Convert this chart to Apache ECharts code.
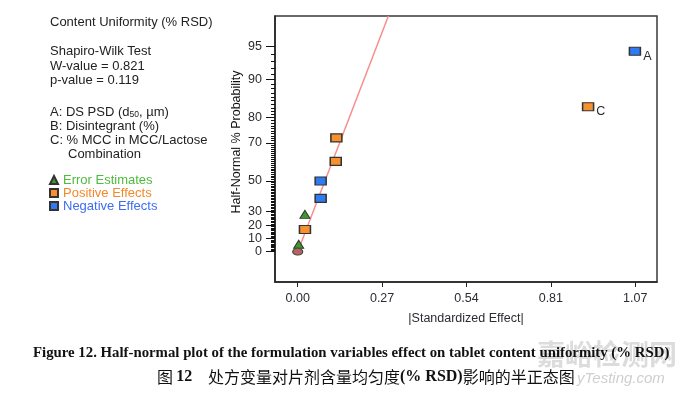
<!DOCTYPE html>
<html>
<head>
<meta charset="utf-8">
<script src="https://cdn.jsdelivr.net/npm/echarts@6/dist/echarts.min.js"></script>
<style>
  html, body { margin: 0; padding: 0; background: #fff; }
  #chart { width: 680px; height: 396px; }
</style>
</head>
<body>
<div id="chart"></div>
<script>
// |standardized effect| and half-normal % probability
var errorX = [0.003, 0.023];
var errorP = [5.6, 27.8];
var posX = [0.023, 0.121, 0.123, 0.924];
var posP = [16.7, 61.1, 72.2, 83.3];
var posLabels = ['', '', '', 'C'];
var negX = [0.073, 0.073, 1.073];
var negP = [38.9, 50.0, 94.4];
var negLabels = ['', '', 'A'];
var zeroX = [0];
var zeroP = [0];
// fitted half-normal line (origin to where it leaves the frame)
var fitX = [0, 0.2885];
var fitP = [0, 97.54];

var xTickValues = [0, 0.2685, 0.537, 0.8055, 1.074];
var xTickLabels = ['0.00', '0.27', '0.54', '0.81', '1.07'];
var yTickLabels = [0, 10, 20, 30, 50, 70, 80, 90, 95];
var yMinorTicks = [];
for (var k = 1; k < 95; k++) yMinorTicks.push(k);

// inverse standard normal (Acklam)
function normInv(p) {
  var a = [-3.969683028665376e+01, 2.209460984245205e+02, -2.759285104469687e+02, 1.383577518672690e+02, -3.066479806614716e+01, 2.506628277459239e+00];
  var b = [-5.447609879822406e+01, 1.615858368580409e+02, -1.556989798598866e+02, 6.680131188771972e+01, -1.328068155288572e+01];
  var c = [-7.784894002430293e-03, -3.223964580411365e-01, -2.400758277161838e+00, -2.549732539343734e+00, 4.374664141464968e+00, 2.938163982698783e+00];
  var d = [7.784695709041462e-03, 3.224671290700398e-01, 2.445134137142996e+00, 3.754408661907416e+00];
  var pl = 0.02425, q, r;
  if (p < pl) {
    q = Math.sqrt(-2 * Math.log(p));
    return (((((c[0]*q+c[1])*q+c[2])*q+c[3])*q+c[4])*q+c[5]) / ((((d[0]*q+d[1])*q+d[2])*q+d[3])*q+1);
  }
  if (p <= 1 - pl) {
    q = p - 0.5; r = q * q;
    return (((((a[0]*r+a[1])*r+a[2])*r+a[3])*r+a[4])*r+a[5])*q / (((((b[0]*r+b[1])*r+b[2])*r+b[3])*r+b[4])*r+1);
  }
  q = Math.sqrt(-2 * Math.log(1 - p));
  return -(((((c[0]*q+c[1])*q+c[2])*q+c[3])*q+c[4])*q+c[5]) / ((((d[0]*q+d[1])*q+d[2])*q+d[3])*q+1);
}
// half-normal probability scale: % -> z
function halfZ(pct) {
  return pct <= 0 ? 0 : normInv(0.5 + pct / 200);
}
function pairs(xs, ps) {
  return xs.map(function (x, i) { return [x, halfZ(ps[i])]; });
}

var yTickZ = yTickLabels.map(halfZ);
var yMinorZ = yMinorTicks.map(halfZ);

var sans = "'Liberation Sans', Arial, sans-serif";
var ink = '#2b2b33';

var myChart = echarts.init(document.getElementById('chart'), null, { renderer: 'canvas' });

myChart.setOption({
  backgroundColor: '#fff',
  animation: false,
  textStyle: { fontFamily: sans },
  grid: {
    left: 275, right: 23, top: 16, bottom: 114,
    show: true, borderColor: '#3a3a3a', borderWidth: 1.5
  },
  legend: {
    orient: 'vertical',
    left: 49, top: 173.5,
    itemWidth: 8, itemHeight: 8, itemGap: 0,
    padding: 0,
    selectedMode: false,
    textStyle: { fontSize: 13, fontFamily: sans, lineHeight: 13 },
    data: [
      { name: 'Error Estimates', textStyle: { color: '#4dbb3d' } },
      { name: 'Positive Effects', textStyle: { color: '#f08a2c' } },
      { name: 'Negative Effects', textStyle: { color: '#3f6cf2' } }
    ]
  },
  xAxis: {
    type: 'value',
    min: -0.0723, max: 1.1433,
    name: '|Standardized Effect|',
    nameLocation: 'middle',
    nameGap: 30,
    nameTextStyle: { fontSize: 12.5, color: ink },
    axisLine: { show: true, onZero: false, lineStyle: { color: '#222', width: 1.5 } },
    axisTick: { show: true, length: 5, customValues: xTickValues, lineStyle: { color: '#222' } },
    axisLabel: {
      customValues: xTickValues,
      fontSize: 12.5, color: ink, margin: 10,
      formatter: function (v) {
        var i = xTickValues.indexOf(v);
        return i >= 0 ? xTickLabels[i] : '';
      }
    },
    splitLine: { show: false }
  },
  yAxis: [
    {
      type: 'value',
      min: -0.289, max: 2.247,
      name: 'Half-Normal % Probability',
      nameLocation: 'middle',
      nameGap: 32,
      nameMoveOverlap: false,
      nameTextStyle: { fontSize: 12.5, color: '#111', padding: [0, 0, 0, 14] },
      axisLine: { show: true, onZero: false, lineStyle: { color: '#222', width: 1.5 } },
      axisTick: { show: true, length: 9, customValues: yTickZ, lineStyle: { color: '#111' } },
      axisLabel: {
        customValues: yTickZ,
        fontSize: 12.5, color: ink, margin: 13,
        formatter: function (v) {
          var best = 0;
          for (var i = 0; i < yTickZ.length; i++) {
            if (Math.abs(yTickZ[i] - v) < Math.abs(yTickZ[best] - v)) best = i;
          }
          return String(yTickLabels[best]);
        }
      },
      splitLine: { show: false }
    },
    {
      type: 'value',
      position: 'left',
      min: -0.289, max: 2.247,
      axisLine: { show: false, onZero: false },
      axisTick: { show: true, length: 4, customValues: yMinorZ, lineStyle: { color: '#111' } },
      axisLabel: { show: false },
      splitLine: { show: false }
    }
  ],
  series: [
    {
      name: 'fit',
      type: 'line',
      data: pairs(fitX, fitP),
      symbol: 'none',
      silent: true,
      z: 1,
      lineStyle: { color: '#f39090', width: 1.5 }
    },
    {
      name: 'Error Estimates',
      type: 'scatter',
      data: pairs(errorX, errorP),
      symbol: 'triangle',
      symbolSize: [10, 8],
      z: 3,
      itemStyle: { color: '#3c9a2d', borderColor: '#333', borderWidth: 1, opacity: 1 }
    },
    {
      name: 'zero',
      type: 'scatter',
      data: pairs(zeroX, zeroP),
      symbol: 'circle',
      symbolSize: [10, 7],
      z: 4,
      itemStyle: { color: '#b5655f', borderColor: '#444', borderWidth: 1, opacity: 1 }
    },
    {
      name: 'Positive Effects',
      type: 'scatter',
      data: pairs(posX, posP),
      symbol: 'rect',
      symbolSize: [11, 8],
      z: 3,
      itemStyle: { color: '#f7902e', borderColor: '#333', borderWidth: 1.3, opacity: 1 },
      label: {
        show: true, position: 'right', distance: 2, offset: [0, 5],
        fontSize: 12.5, color: ink,
        formatter: function (p) { return posLabels[p.dataIndex]; }
      }
    },
    {
      name: 'Negative Effects',
      type: 'scatter',
      data: pairs(negX, negP),
      symbol: 'rect',
      symbolSize: [11, 8],
      z: 3,
      itemStyle: { color: '#2f7cf2', borderColor: '#333', borderWidth: 1.3, opacity: 1 },
      label: {
        show: true, position: 'right', distance: 2, offset: [0, 5],
        fontSize: 12.5, color: ink,
        formatter: function (p) { return negLabels[p.dataIndex]; }
      }
    }
  ],
  graphic: [
    // left panel
    { type: 'text', left: 50, top: 16, style: { text: 'Content Uniformity (% RSD)', font: '13px ' + sans, fill: '#222' } },
    { type: 'text', left: 50, top: 44.5, style: { text: 'Shapiro-Wilk Test\nW-value = 0.821\np-value = 0.119', font: '13px ' + sans, fill: '#222', lineHeight: 14.5 } },
    {
      type: 'text', left: 50, top: 104.8,
      style: {
        text: 'A: DS PSD (d{sub|50}, µm)\nB: Disintegrant (%)\nC: % MCC in MCC/Lactose',
        font: '13px ' + sans, fill: '#222', lineHeight: 14.3,
        rich: { sub: { fontSize: 8.5, fontFamily: sans, fill: '#222', verticalAlign: 'bottom', lineHeight: 11 } }
      }
    },
    { type: 'text', left: 68, top: 147.7, style: { text: 'Combination', font: '13px ' + sans, fill: '#222' } },
    // watermark
    { type: 'text', left: 537, top: 340, z: 0, style: { text: '嘉峪检测网', font: 'bold 28px "Noto Sans CJK SC"', fill: '#dcdcdc' } },
    { type: 'text', left: 577, top: 371, z: 0, style: { text: 'yTesting.com', font: 'italic 15px ' + sans, fill: '#cfcfcf' } },
    // caption
    {
      type: 'text', left: 33, top: 346, z: 10,
      style: {
        text: 'Figure 12. Half-normal plot of the formulation variables effect on tablet content uniformity (% RSD)',
        font: 'bold 14.8px "Liberation Serif", "Times New Roman", serif', fill: '#111'
      }
    },
    {
      type: 'text', left: 157, top: 369, z: 10,
      style: {
        text: '{c|图} {b|12}',
        rich: {
          c: { fontSize: 16, fontFamily: '"Noto Sans CJK SC"', fill: '#111' },
          b: { fontSize: 16, fontFamily: '"Liberation Serif", serif', fontWeight: 'bold', fill: '#111' }
        }
      }
    },
    {
      type: 'text', left: 208, top: 369, z: 10,
      style: {
        text: '{c|处方变量对片剂含量均匀度}{b|(% RSD)}{c|影响的半正态图}',
        rich: {
          c: { fontSize: 16, fontFamily: '"Noto Sans CJK SC"', fill: '#111' },
          b: { fontSize: 16, fontFamily: '"Liberation Serif", serif', fontWeight: 'bold', fill: '#111' }
        }
      }
    }
  ]
});
</script>
</body>
</html>
